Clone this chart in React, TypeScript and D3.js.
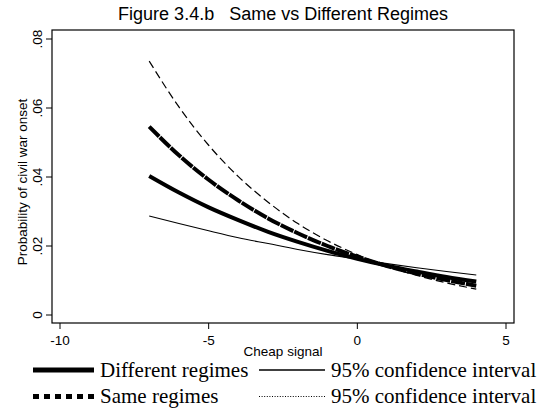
import React from "react";
import * as d3 from "d3";

const xs = [-7, -6, -5, -4, -3, -2, -1, 0, 1, 2, 3, 4];
const differentRegimes = [0.0403, 0.0355, 0.0312, 0.0275, 0.0241, 0.0212, 0.0186, 0.0163, 0.0143, 0.0126, 0.011, 0.0097];
const sameRegimes = [0.0546, 0.0463, 0.0392, 0.0332, 0.028, 0.0237, 0.02, 0.0169, 0.0142, 0.012, 0.0101, 0.0085];
const differentCI = [0.0287, 0.0265, 0.0244, 0.0224, 0.0207, 0.019, 0.0175, 0.0162, 0.0149, 0.0137, 0.0126, 0.0116];
const sameCI = [0.0736, 0.0603, 0.0492, 0.0401, 0.0327, 0.0265, 0.0215, 0.0175, 0.0141, 0.0115, 0.0093, 0.0075];
const xTicks = [-10, -5, 0, 5];
const yTicks = [0, 0.02, 0.04, 0.06, 0.08];
const yTickLabels = ["0", ".02", ".04", ".06", ".08"];

const W = 541;
const H = 414;
const frame = { left: 52, right: 514, top: 30, bottom: 323 };

export default function App() {
  const x = d3.scaleLinear().domain([-10, 5]).range([60, 506]);
  const y = d3.scaleLinear().domain([0, 0.08]).range([315, 39]);
  const line = (vals: number[]) =>
    d3
      .line<number>()
      .x((_, i) => x(xs[i]))
      .y((v) => y(v))
      .curve(d3.curveMonotoneX)(vals) || "";
  const sans = "'Liberation Sans', Arial, sans-serif";
  const serif = "'Liberation Serif', 'Times New Roman', serif";
  return (
    <svg width={W} height={H} style={{ position: "absolute", left: 0, top: 0, background: "#fff" }}>
      <rect x={0} y={0} width={W} height={H} fill="#fff" />
      <text x={283} y={20} textAnchor="middle" fontFamily={sans} fontSize={18} style={{ whiteSpace: "pre" }}>
        {"Figure 3.4.b   Same vs Different Regimes"}
      </text>
      <rect
        x={frame.left}
        y={frame.top}
        width={frame.right - frame.left}
        height={frame.bottom - frame.top}
        fill="none"
        stroke="#000"
        strokeWidth={1.2}
      />
      {xTicks.map((t) => (
        <g key={"x" + t}>
          <line x1={x(t)} x2={x(t)} y1={frame.bottom} y2={frame.bottom + 6} stroke="#000" strokeWidth={1} />
          <text x={x(t)} y={345} textAnchor="middle" fontFamily={sans} fontSize={13.5}>
            {t}
          </text>
        </g>
      ))}
      {yTicks.map((t, i) => (
        <g key={"y" + t}>
          <line x1={frame.left - 6} x2={frame.left} y1={y(t)} y2={y(t)} stroke="#000" strokeWidth={1} />
          <text
            transform={`translate(42,${y(t)}) rotate(-90)`}
            textAnchor="middle"
            fontFamily={sans}
            fontSize={13.5}
          >
            {yTickLabels[i]}
          </text>
        </g>
      ))}
      <text transform={`translate(27,182) rotate(-90)`} textAnchor="middle" fontFamily={sans} fontSize={13.5}>
        Probability of civil war onset
      </text>
      <text x={283} y={356} textAnchor="middle" fontFamily={sans} fontSize={13.5}>
        Cheap signal
      </text>

      <path d={line(differentCI)} fill="none" stroke="#000" strokeWidth={1.1} />
      <path d={line(sameCI)} fill="none" stroke="#000" strokeWidth={1.2} strokeDasharray="8,4" />
      <path d={line(differentRegimes)} fill="none" stroke="#000" strokeWidth={4} />
      <path d={line(sameRegimes)} fill="none" stroke="#000" strokeWidth={4} strokeDasharray="14,1" />

      <line x1={33} x2={94} y1={370} y2={370} stroke="#000" strokeWidth={5} />
      <text x={100} y={377} fontFamily={serif} fontSize={21}>
        Different regimes
      </text>
      <line x1={33} x2={94} y1={396.5} y2={396.5} stroke="#000" strokeWidth={5} strokeDasharray="6,5" />
      <text x={100} y={403} fontFamily={serif} fontSize={21}>
        Same regimes
      </text>
      <line x1={259} x2={325} y1={370} y2={370} stroke="#000" strokeWidth={1.3} />
      <text x={331} y={377} fontFamily={serif} fontSize={21}>
        95% confidence interval
      </text>
      <line x1={259} x2={326} y1={396.5} y2={396.5} stroke="#000" strokeWidth={1} strokeDasharray="1,1.6" />
      <text x={331} y={403} fontFamily={serif} fontSize={21}>
        95% confidence interval
      </text>
    </svg>
  );
}
